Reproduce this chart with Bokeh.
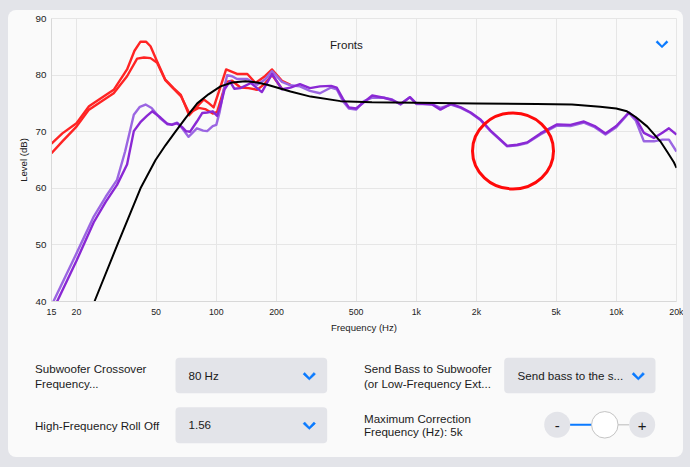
from bokeh.plotting import figure
from bokeh.layouts import column
from bokeh.models import Range1d, FixedTicker, Label, BoxAnnotation, PolyAnnotation
from bokeh.embed import file_html
from bokeh.resources import INLINE

# ---------------- data ----------------
x_ticks = [15, 20, 50, 100, 200, 500, 1000, 2000, 5000, 10000, 20000]
x_tick_labels = ["15", "20", "50", "100", "200", "500", "1k", "2k", "5k", "10k", "20k"]
y_ticks = [40, 50, 60, 70, 80, 90]

target_freq = [24.6, 32, 41.8, 49.7, 55.7, 62.5, 70.2, 80.3, 91.4, 105, 120, 140, 160, 180, 235, 296, 418,
               600, 1000, 2000, 4000, 6000, 8300, 10000, 11300, 12500, 14300, 16600, 18000, 19400, 20000]
target_db = [40, 50, 60, 65, 67.6, 70, 72.4, 75, 76.6, 78, 78.7, 78.9, 78.7, 78.3, 77.1, 76.2, 75.4,
             75.2, 75.1, 75.0, 74.9, 74.8, 74.4, 74.1, 73.6, 72.6, 70.9, 68.3, 66.4, 64.6, 63.6]

before1_freq = [15, 17, 20, 23.1, 26.5, 30.7, 35.8, 39, 41.8, 44.5, 46.9, 50.6, 55.6, 61.1, 66.5, 73.2, 78,
                86.6, 92, 97, 104, 112, 127, 143, 157, 175, 190, 213, 235]
before1_db = [67.9, 69.7, 71.5, 74.5, 75.9, 77.4, 81.0, 84.3, 85.9, 85.9, 85.1, 82.4, 79.2, 77.7, 76.5, 72.9,
              74.0, 75.7, 75.0, 74.3, 77.5, 81.0, 80.2, 80.2, 78.6, 79.8, 81.0, 79.0, 78.3]

before2_freq = [15, 17, 20, 23.1, 26.5, 30.7, 35.8, 40.2, 43.5, 46.9, 50.6, 55.6, 61.1, 66.5, 73.2, 81.7, 88,
                96, 101, 106, 112, 120, 132, 145, 160, 175, 190, 213]
before2_db = [66.2, 68.3, 70.9, 73.9, 75.3, 76.8, 79.8, 82.9, 83.1, 83.0, 82.2, 79.1, 77.6, 76.3, 73.3, 74.2,
              74.0, 73.2, 73.5, 76.0, 78.8, 79.0, 77.8, 77.7, 77.4, 78.5, 80.0, 77.6]

after1_freq = [15, 20, 24.4, 28, 31.9, 35, 38.7, 41.5, 44.3, 47.5, 52.6, 57, 60, 63.7, 67.5, 72.6, 80, 86, 90,
               96, 100, 104, 109, 113.4, 120, 127, 143, 160, 175, 190, 213, 235, 262, 294, 330, 375, 400, 430,
               460, 500, 547, 602, 688, 757, 834, 929, 1000, 1200, 1320, 1490, 1670, 1870, 2100, 2350, 2847,
               3200, 3583, 4178, 5060, 5902, 6890, 7800, 8830, 10000, 11560, 12500, 13740, 15420, 17000,
               18330, 20000]
after1_db = [39.3, 48.5, 55.0, 58.5, 61.5, 66.5, 73.0, 74.4, 74.8, 74.2, 72.3, 71.3, 71.3, 71.6, 70.6, 69.1,
             70.6, 70.2, 70.1, 71.0, 71.2, 73.5, 77.4, 80.0, 79.8, 79.3, 79.3, 78.3, 79.2, 80.7, 78.8, 78.2,
             78.0, 77.2, 76.8, 77.8, 77.5, 75.4, 74.1, 73.9, 75.4, 76.0, 76.0, 75.7, 74.8, 76.1, 74.9, 74.9,
             74.2, 74.8, 74.2, 73.3, 72.0, 70.1, 67.4, 67.6, 68.0, 69.5, 71.1, 71.0, 71.6, 70.8, 69.5, 70.8,
             73.3, 72.0, 68.3, 68.3, 68.6, 68.6, 66.5]

after2_freq = [15, 16, 20, 24.4, 28, 31.9, 35.8, 38.7, 42, 45, 47.8, 52.6, 57, 60, 63.7, 67.5, 70.5, 74, 80,
               85, 90, 96, 101, 105, 110, 117, 123, 132, 149, 169, 190, 213, 235, 262, 294, 330, 375, 400, 430,
               460, 500, 547, 602, 688, 757, 834, 929, 1000, 1200, 1320, 1490, 1670, 1870, 2100, 2350, 2847,
               3200, 3583, 4178, 5060, 5902, 6890, 7800, 8830, 10000, 11560, 12500, 13740, 15420, 17000,
               18330, 20000]
after2_db = [38.5, 40.0, 47.2, 54.0, 57.6, 60.6, 64.2, 70.1, 71.8, 72.8, 73.6, 72.5, 71.4, 71.2, 71.5, 70.8,
             70.1, 70.0, 71.8, 73.3, 73.4, 73.6, 72.8, 74.6, 77.5, 78.9, 77.6, 77.7, 78.6, 77.0, 80.2, 77.5,
             77.8, 78.4, 77.7, 78.0, 78.1, 77.8, 75.8, 74.3, 74.1, 75.2, 76.4, 76.0, 75.6, 74.9, 76.1, 75.0,
             74.8, 73.9, 74.9, 74.3, 73.4, 72.1, 70.2, 67.5, 67.7, 68.1, 69.7, 71.3, 71.2, 71.8, 71.0, 69.7,
             71.0, 73.4, 72.4, 69.8, 68.9, 69.8, 70.6, 69.5]

highlight_freq = [3045]
highlight_db = [66.6]

# ---------------- layout constants ----------------
BG = "#e3e4e9"
CARD = "#fafafa"
GRID = "#e6e6e6"
BLUE = "#0a7aff"
TXT = "#1a1a1a"
FONT = "Liberation Sans"
TEXT_SHIFT = 4.5  # label baseline correction

CARD_X, CARD_Y, CARD_W, CARD_H = 8, 10, 675, 447
TOP_H = 335
BOT_H = CARD_H - TOP_H
FL, FR, FT, FB = 51, 676, 18, 301  # chart frame in page pixels

# ---------------- chart ----------------
p = figure(width=CARD_W, height=TOP_H, x_axis_type="log", x_range=Range1d(15, 20000),
           y_range=Range1d(40, 90), output_backend="svg", toolbar_location=None,
           min_border_left=FL - CARD_X, min_border_right=CARD_X + CARD_W - FR,
           min_border_top=FT - CARD_Y, min_border_bottom=CARD_Y + TOP_H - FB)
p.frame_align = False
p.background_fill_color = CARD
p.border_fill_alpha = 0
p.outline_line_color = GRID

p.xaxis.ticker = FixedTicker(ticks=x_ticks)
p.xaxis.major_label_overrides = {t: l for t, l in zip(x_ticks, x_tick_labels)}
p.yaxis.ticker = FixedTicker(ticks=y_ticks)
for ax in (p.xaxis, p.yaxis):
    ax.axis_line_color = "#d8d8d8"
    ax.major_tick_line_color = None
    ax.minor_tick_line_color = None
    ax.major_tick_out = 0
    ax.major_tick_in = 0
    ax.minor_tick_out = 0
    ax.minor_tick_in = 0
    ax.major_label_text_font = FONT
    ax.major_label_text_color = "#222222"
    ax.axis_label_text_font = FONT
    ax.axis_label_text_font_style = "normal"
    ax.axis_label_text_color = "#222222"
    ax.axis_label_text_font_size = "9.6px"
p.xaxis.major_label_text_font_size = "8.8px"
p.yaxis.major_label_text_font_size = "9.8px"
p.xaxis.major_label_standoff = 5
p.yaxis.major_label_standoff = 5
p.xaxis.axis_label = "Frequency (Hz)"
p.yaxis.axis_label = "Level (dB)"
p.xaxis.axis_label_standoff = 2
p.yaxis.axis_label_standoff = 4
p.xgrid.grid_line_color = GRID
p.ygrid.grid_line_color = GRID

p.line(before1_freq, before1_db, line_color="#ff2424", line_width=2.4, line_join="round")
p.line(before2_freq, before2_db, line_color="#ff2424", line_width=2.4, line_join="round")
p.line(after1_freq, after1_db, line_color="#9b66e2", line_width=2.4, line_join="round")
p.line(after2_freq, after2_db, line_color="#8a28d4", line_width=2.4, line_join="round")
p.line(target_freq, target_db, line_color="#000000", line_width=2, line_join="round")
p.ellipse(highlight_freq, highlight_db, width=81, height=76, width_units="screen", height_units="screen",
          fill_alpha=0, line_color="#ff0a0a", line_width=3)

# header text and dropdown arrow (screen units relative to the chart frame)
p.add_layout(Label(x=329.5 - FL, y=FB - (48.3 - TEXT_SHIFT), x_units="screen", y_units="screen",
                   text="Fronts", text_font=FONT, text_font_size="11.6px", text_color=TXT,
                   text_baseline="alphabetic"))


def chevron_pts(cx, cy, w=12.5, h=7.5, t=2.4):
    hw, hh = w / 2, h / 2
    pts = [(-hw, -hh + t * 0.7), (-hw + t * 0.7, -hh), (0, hh - t * 1.05), (hw - t * 0.7, -hh),
           (hw, -hh + t * 0.7), (0, hh)]
    return [cx + a for a, b in pts], [cy + b for a, b in pts]


hx, hy = chevron_pts(661.5, 43.7)
p.add_layout(PolyAnnotation(xs=[v - FL for v in hx], ys=[FB - v for v in hy], xs_units="screen",
                            ys_units="screen", fill_color=BLUE, fill_alpha=1, line_color=BLUE,
                            line_width=0.5))

# ---------------- controls panel ----------------
q = figure(width=CARD_W, height=BOT_H, x_range=Range1d(0, CARD_W), y_range=Range1d(BOT_H, 0),
           output_backend="svg", toolbar_location=None, x_axis_location=None, y_axis_location=None,
           min_border=0, min_border_left=0, min_border_right=0, min_border_top=0, min_border_bottom=0)
q.frame_align = False
q.grid.visible = False
q.outline_line_color = None
q.background_fill_alpha = 0
q.border_fill_alpha = 0
OX, OY = CARD_X, CARD_Y + TOP_H  # page position of the panel origin


def label(text, cx, cy, size="11.6px", color=TXT, align="left"):
    q.add_layout(Label(x=cx - OX, y=cy - TEXT_SHIFT - OY, text=text, text_font=FONT, text_font_size=size,
                       text_color=color, text_align=align, text_baseline="alphabetic"))


def box(x0, y0, x1, y1, fill, radius=0):
    q.add_layout(BoxAnnotation(left=x0 - OX, right=x1 - OX, top=y0 - OY, bottom=y1 - OY,
                               fill_color=fill, fill_alpha=1, line_color=None,
                               border_radius=int(radius), level="underlay"))


def chevron(cx, cy):
    xs, ys = chevron_pts(cx, cy)
    q.patch([v - OX for v in xs], [v - OY for v in ys], fill_color=BLUE, line_color=BLUE, line_width=0.5)


label("Subwoofer Crossover", 34.5, 372.3)
label("Frequency...", 34.5, 387.3)
label("High-Frequency Roll Off", 34.5, 429.3)
box(175, 357.3, 326.7, 392.7, BG, radius=4)
box(175, 406.7, 326.7, 442.7, BG, radius=4)
label("80 Hz", 188, 379.3)
label("1.56", 188, 429.3)
chevron(308.8, 375.7)
chevron(308.8, 425.2)

label("Send Bass to Subwoofer", 363.5, 372.3)
label("(or Low-Frequency Ext...", 363.5, 387.3)
box(503.7, 357.3, 655, 392.7, BG, radius=4)
label("Send bass to the s...", 517, 379.3)
chevron(637.8, 375.7)
label("Maximum Correction", 363.5, 422.3)
label("Frequency (Hz): 5k", 363.5, 435)

# slider
q.scatter([556.7 - OX, 641.7 - OX], [424.3 - OY, 424.3 - OY], size=26, marker="circle",
          fill_color=BG, line_color=None)
box(569, 423.3, 592, 425.3, BLUE)
box(616, 423.6, 629, 425.0, "#cfcfcf")
q.scatter([604.3 - OX], [424.3 - OY], size=26.5, marker="circle", fill_color="#ffffff",
          line_color="#c4c4c4", line_width=1)
label("-", 556.7, 429.5, size="15px", align="center")
label("+", 641.7, 429.8, size="15px", align="center")

card = column(p, q, width=CARD_W, height=CARD_H, sizing_mode="fixed",
              margin=(CARD_Y, 690 - CARD_X - CARD_W, 467 - CARD_Y - CARD_H, CARD_X),
              styles={"background-color": CARD, "border-radius": "8px", "overflow": "hidden"})
page = column(card, width=690, height=467, sizing_mode="fixed", styles={"background-color": BG})

open("out.html", "w").write(file_html(page, INLINE))
